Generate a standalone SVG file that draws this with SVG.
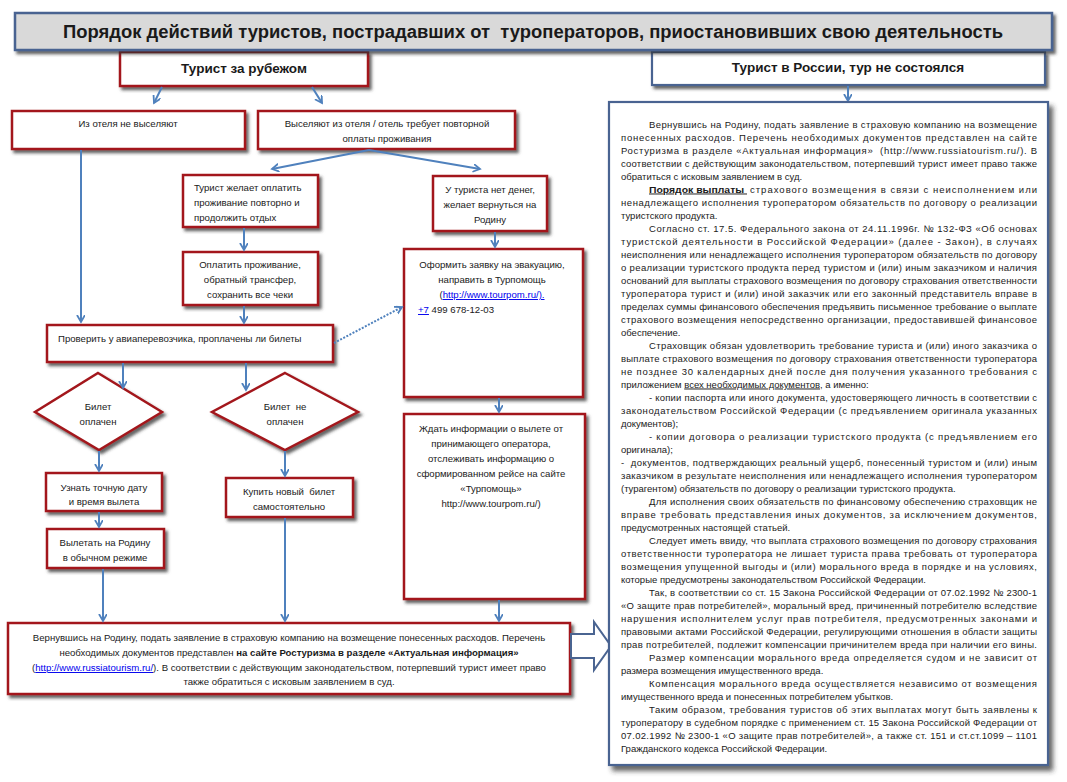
<svg xmlns="http://www.w3.org/2000/svg" width="1067" height="782" viewBox="0 0 1067 782">
<defs>
<style>
text{font-family:"Liberation Sans",Arial,sans-serif;fill:#1a1a1a}
.t{font-size:9.6px}
.c{text-anchor:middle}
.b{font-weight:bold}
.r{font-size:9.5px}
.red{fill:#fff;stroke:#a3191c;stroke-width:2.5}
.blu{fill:#fff;stroke:#4a6491;stroke-width:2.2}
.lnk{fill:#0000ee;text-decoration:underline}
.con{stroke:#4f81bd;stroke-width:2;fill:none}
</style>
<filter id="sh" x="-10%" y="-20%" width="125%" height="150%">
<feDropShadow dx="2.5" dy="3" stdDeviation="1.4" flood-color="#333" flood-opacity="0.75"/>
</filter>
<filter id="sh2" x="-5%" y="-5%" width="115%" height="115%">
<feDropShadow dx="4" dy="5" stdDeviation="2.5" flood-color="#333" flood-opacity="0.75"/>
</filter>
<marker id="ah" markerWidth="10" markerHeight="10" refX="7" refY="4" orient="auto" markerUnits="userSpaceOnUse">
<path d="M0,0 L7,4 L0,8" fill="none" stroke="#4f81bd" stroke-width="1.8"/>
</marker>
</defs>
<rect width="1067" height="782" fill="#fff"/>

<g id="node-abroad">
<rect class="red" x="120" y="52" width="248" height="34" filter="url(#sh)"/>
<text class="b c" x="244" y="73" font-size="13.5">Турист за рубежом</text>
</g>
<g id="node-russia">
<rect class="blu" x="652" y="52" width="393" height="33" filter="url(#sh)"/>
<text class="b c" x="848" y="72" font-size="13.5">Турист в России, тур не состоялся</text>
</g>
<g id="title">
<rect x="15" y="13" width="1037" height="37" fill="#d9d9d9" stroke="#4a6491" stroke-width="2.5" filter="url(#sh)"/>
<text class="b c" x="533" y="38" font-size="17.5" textLength="940" lengthAdjust="spacingAndGlyphs">Порядок действий туристов, пострадавших от&#160; туроператоров, приостановивших свою деятельность</text>
</g>

<g id="node-stay">
<rect class="red" x="12" y="111" width="233" height="38" filter="url(#sh)"/>
<text class="t c" x="128" y="127">Из отеля не выселяют</text>
</g>
<g id="node-evicted">
<rect class="red" x="258" y="111" width="257" height="38" filter="url(#sh)"/>
<text class="t c" x="387" y="127">Выселяют из отеля / отель требует повторной</text>
<text class="t c" x="387" y="142">оплаты проживания</text>
</g>
<g id="node-pay-again">
<rect class="red" x="183" y="175" width="135" height="52" filter="url(#sh)"/>
<text class="t" x="194" y="191">Турист желает оплатить</text>
<text class="t" x="194" y="206">проживание повторно и</text>
<text class="t" x="194" y="221">продолжить отдых</text>
</g>
<g id="node-no-money">
<rect class="red" x="433" y="176" width="114" height="55" filter="url(#sh)"/>
<text class="t c" x="490" y="193">У туриста нет денег,</text>
<text class="t c" x="490" y="208">желает вернуться на</text>
<text class="t c" x="490" y="223">Родину</text>
</g>
<g id="node-pay">
<rect class="red" x="183" y="252" width="135" height="53" filter="url(#sh)"/>
<text class="t c" x="250" y="268">Оплатить проживание,</text>
<text class="t c" x="250" y="283">обратный трансфер,</text>
<text class="t c" x="250" y="298">сохранить все чеки</text>
</g>
<g id="node-check">
<rect class="red" x="47" y="325" width="286" height="37" filter="url(#sh)"/>
<text class="t" x="58" y="342">Проверить у авиаперевозчика, проплачены ли билеты</text>
</g>
<g id="node-evac">
<rect class="red" x="404" y="249" width="179" height="148" filter="url(#sh)"/>
<text class="t c" x="492" y="268">Оформить заявку на эвакуацию,</text>
<text class="t c" x="492" y="283">направить в Турпомощь</text>
<text class="t c" x="492" y="298">(<tspan class="lnk">http://www.tourpom.ru/).</tspan></text>
<text class="t" x="418" y="313"><tspan class="lnk">+7</tspan> 499 678-12-03</text>
</g>
<g id="node-wait">
<rect class="red" x="404" y="414" width="181" height="185" filter="url(#sh)"/>
<text class="t c" x="491" y="432">Ждать информации о вылете от</text>
<text class="t c" x="491" y="447">принимающего оператора,</text>
<text class="t c" x="491" y="462">отслеживать информацию о</text>
<text class="t c" x="491" y="477">сформированном рейсе на сайте</text>
<text class="t c" x="491" y="492">«Турпомощь»</text>
<text class="t c" x="491" y="507">http://www.tourpom.ru/)</text>
</g>
<g id="node-paid">
<polygon class="red" points="98,373 162,412 99,450 35,412" filter="url(#sh)"/>
<text class="t c" x="98" y="410">Билет</text>
<text class="t c" x="98" y="425">оплачен</text>
</g>
<g id="node-unpaid">
<polygon class="red" points="285,373 358,412 285,450 212,412" filter="url(#sh)"/>
<text class="t c" x="285" y="410">Билет&#160; не</text>
<text class="t c" x="285" y="425">оплачен</text>
</g>
<g id="node-date">
<rect class="red" x="46" y="473" width="116" height="38" filter="url(#sh)"/>
<text class="t c" x="104" y="491">Узнать точную дату</text>
<text class="t c" x="104" y="505">и время вылета</text>
</g>
<g id="node-fly">
<rect class="red" x="47" y="529" width="117" height="39" filter="url(#sh)"/>
<text class="t c" x="105" y="546">Вылетать на Родину</text>
<text class="t c" x="105" y="561">в обычном режиме</text>
</g>
<g id="node-buy">
<rect class="red" x="226" y="478" width="127" height="39" filter="url(#sh)"/>
<text class="t c" x="289" y="495">Купить новый&#160; билет</text>
<text class="t c" x="289" y="510">самостоятельно</text>
</g>
<g id="node-claim">
<rect class="red" x="8" y="623" width="562" height="71" filter="url(#sh)"/>
<text class="t c" x="289" y="641">Вернувшись на Родину, подать заявление в страховую компанию на возмещение понесенных расходов. Перечень</text>
<text class="t c" x="289" y="656">необходимых документов представлен <tspan class="b">на сайте Ростуризма в разделе «Актуальная информация»</tspan></text>
<text class="t c" x="289" y="671">(<tspan class="lnk">http://www.russiatourism.ru/</tspan>). В соответствии с действующим законодательством, потерпевший турист имеет право</text>
<text class="t c" x="289" y="685">также обратиться с исковым заявлением в суд.</text>
</g>

<g id="connectors">
<line class="con" x1="162" y1="87" x2="154" y2="103" marker-end="url(#ah)"/>
<line class="con" x1="312" y1="87" x2="322" y2="103" marker-end="url(#ah)"/>
<line class="con" x1="848" y1="86" x2="848" y2="101" marker-end="url(#ah)"/>
<line class="con" x1="369" y1="150" x2="272" y2="169" marker-end="url(#ah)"/>
<line class="con" x1="369" y1="150" x2="480" y2="169" marker-end="url(#ah)"/>
<line class="con" x1="81" y1="150" x2="81" y2="322" marker-end="url(#ah)"/>
<line class="con" x1="244" y1="228" x2="244" y2="250" marker-end="url(#ah)"/>
<line class="con" x1="495" y1="232" x2="495" y2="247" marker-end="url(#ah)"/>
<line class="con" x1="244" y1="306" x2="244" y2="323" marker-end="url(#ah)"/>
<line class="con" x1="334" y1="343" x2="402" y2="307" stroke-dasharray="2 1.5" stroke-width="1.5" marker-end="url(#ah)"/>
<line class="con" x1="123" y1="363" x2="123" y2="388" marker-end="url(#ah)"/>
<line class="con" x1="246" y1="363" x2="246" y2="390" marker-end="url(#ah)"/>
<line class="con" x1="499" y1="398" x2="499" y2="412" marker-end="url(#ah)"/>
<line class="con" x1="99" y1="451" x2="99" y2="471" marker-end="url(#ah)"/>
<line class="con" x1="285" y1="451" x2="285" y2="476" marker-end="url(#ah)"/>
<line class="con" x1="99" y1="512" x2="99" y2="527" marker-end="url(#ah)"/>
<line class="con" x1="103" y1="569" x2="103" y2="621" marker-end="url(#ah)"/>
<line class="con" x1="285" y1="518" x2="285" y2="621" marker-end="url(#ah)"/>
<line class="con" x1="499" y1="600" x2="499" y2="621" marker-end="url(#ah)"/>
<path d="M571,634 H594 V622 L611,646 L594,670 V658 H571 Z" fill="#fff" stroke="#4a6491" stroke-width="2"/>
</g>

<g id="node-panel">
<rect class="blu" x="609" y="102" width="439" height="663" filter="url(#sh2)"/>
<text class="r" x="649" y="127.5" textLength="388" lengthAdjust="spacing">Вернувшись на Родину, подать заявление в страховую компанию на возмещение</text>
<text class="r" x="621" y="140.5" textLength="416" lengthAdjust="spacing">понесенных расходов. Перечень необходимых документов представлен на сайте</text>
<text class="r" x="621" y="153.5" textLength="416" lengthAdjust="spacing">Ростуризма в разделе «Актуальная информация»&#160; (http://www.russiatourism.ru/). В</text>
<text class="r" x="621" y="166.5" textLength="416" lengthAdjust="spacing">соответствии с действующим законодательством, потерпевший турист имеет право также</text>
<text class="r" x="621" y="179.5">обратиться с исковым заявлением в суд.</text>
<text class="r b" x="649" y="192.5" text-decoration="underline" textLength="98" lengthAdjust="spacingAndGlyphs">Порядок выплаты&#160;</text>
<text class="r" x="750" y="192.5" textLength="287" lengthAdjust="spacing">страхового возмещения в связи с неисполнением или</text>
<text class="r" x="621" y="205.5" textLength="416" lengthAdjust="spacing">ненадлежащего исполнения туроператором обязательств по договору о реализации</text>
<text class="r" x="621" y="218.5">туристского продукта.</text>
<text class="r" x="649" y="231.5" textLength="388" lengthAdjust="spacing">Согласно ст. 17.5. Федерального закона от 24.11.1996г. № 132-ФЗ «Об основах</text>
<text class="r" x="621" y="244.5" textLength="416" lengthAdjust="spacing">туристской деятельности в Российской Федерации» (далее - Закон), в случаях</text>
<text class="r" x="621" y="257.5" textLength="416" lengthAdjust="spacing">неисполнения или ненадлежащего исполнения туроператором обязательств по договору</text>
<text class="r" x="621" y="270.5" textLength="416" lengthAdjust="spacing">о реализации туристского продукта перед туристом и (или) иным заказчиком и наличия</text>
<text class="r" x="621" y="283.5" textLength="416" lengthAdjust="spacing">оснований для выплаты страхового возмещения по договору страхования ответственности</text>
<text class="r" x="621" y="296.5" textLength="416" lengthAdjust="spacing">туроператора турист и (или) иной заказчик или его законный представитель вправе в</text>
<text class="r" x="621" y="309.5" textLength="416" lengthAdjust="spacing">пределах суммы финансового обеспечения предъявить письменное требование о выплате</text>
<text class="r" x="621" y="322.5" textLength="416" lengthAdjust="spacing">страхового возмещения непосредственно организации, предоставившей финансовое</text>
<text class="r" x="621" y="335.5">обеспечение.</text>
<text class="r" x="649" y="348.5" textLength="388" lengthAdjust="spacing">Страховщик обязан удовлетворить требование туриста и (или) иного заказчика о</text>
<text class="r" x="621" y="361.5" textLength="416" lengthAdjust="spacing">выплате страхового возмещения по договору страхования ответственности туроператора</text>
<text class="r" x="621" y="374.5" textLength="416" lengthAdjust="spacing">не позднее 30 календарных дней после дня получения указанного требования с</text>
<text class="r" x="621" y="387.5">приложением <tspan text-decoration="underline">всех необходимых документов</tspan>, а именно:</text>
<text class="r" x="649" y="400.5" textLength="388" lengthAdjust="spacing">- копии паспорта или иного документа, удостоверяющего личность в соответствии с</text>
<text class="r" x="621" y="413.5" textLength="416" lengthAdjust="spacing">законодательством Российской Федерации (с предъявлением оригинала указанных</text>
<text class="r" x="621" y="426.5">документов);</text>
<text class="r" x="649" y="439.5" textLength="388" lengthAdjust="spacing">- копии договора о реализации туристского продукта (с предъявлением его</text>
<text class="r" x="621" y="452.5">оригинала);</text>
<text class="r" x="621" y="465.5" textLength="416" lengthAdjust="spacing">-&#160; документов, подтверждающих реальный ущерб, понесенный туристом и (или) иным</text>
<text class="r" x="621" y="478.5" textLength="416" lengthAdjust="spacing">заказчиком в результате неисполнения или ненадлежащего исполнения туроператором</text>
<text class="r" x="621" y="491.5">(турагентом) обязательств по договору о реализации туристского продукта.</text>
<text class="r" x="649" y="504.5" textLength="388" lengthAdjust="spacing">Для исполнения своих обязательств по финансовому обеспечению страховщик не</text>
<text class="r" x="621" y="517.5" textLength="416" lengthAdjust="spacing">вправе требовать представления иных документов, за исключением документов,</text>
<text class="r" x="621" y="530.5">предусмотренных настоящей статьей.</text>
<text class="r" x="649" y="543.5" textLength="388" lengthAdjust="spacing">Следует иметь ввиду, что выплата страхового возмещения по договору страхования</text>
<text class="r" x="621" y="556.5" textLength="416" lengthAdjust="spacing">ответственности туроператора не лишает туриста права требовать от туроператора</text>
<text class="r" x="621" y="569.5" textLength="416" lengthAdjust="spacing">возмещения упущенной выгоды и (или) морального вреда в порядке и на условиях,</text>
<text class="r" x="621" y="582.5">которые предусмотрены законодательством Российской Федерации.</text>
<text class="r" x="649" y="595.5" textLength="388" lengthAdjust="spacing">Так, в соответствии со ст. 15 Закона Российской Федерации от 07.02.1992 № 2300-1</text>
<text class="r" x="621" y="608.5" textLength="416" lengthAdjust="spacing">«О защите прав потребителей», моральный вред, причиненный потребителю вследствие</text>
<text class="r" x="621" y="621.5" textLength="416" lengthAdjust="spacing">нарушения исполнителем услуг прав потребителя, предусмотренных законами и</text>
<text class="r" x="621" y="634.5" textLength="416" lengthAdjust="spacing">правовыми актами Российской Федерации, регулирующими отношения в области защиты</text>
<text class="r" x="621" y="647.5" textLength="416" lengthAdjust="spacing">прав потребителей, подлежит компенсации причинителем вреда при наличии его вины.</text>
<text class="r" x="649" y="660.5" textLength="388" lengthAdjust="spacing">Размер компенсации морального вреда определяется судом и не зависит от</text>
<text class="r" x="621" y="673.5">размера возмещения имущественного вреда.</text>
<text class="r" x="649" y="686.5" textLength="388" lengthAdjust="spacing">Компенсация морального вреда осуществляется независимо от возмещения</text>
<text class="r" x="621" y="699.5">имущественного вреда и понесенных потребителем убытков.</text>
<text class="r" x="649" y="712.5" textLength="388" lengthAdjust="spacing">Таким образом, требования туристов об этих выплатах могут быть заявлены к</text>
<text class="r" x="621" y="725.5" textLength="416" lengthAdjust="spacing">туроператору в судебном порядке с применением ст. 15 Закона Российской Федерации от</text>
<text class="r" x="621" y="738.5" textLength="416" lengthAdjust="spacing">07.02.1992 № 2300-1 «О защите прав потребителей», а также ст. 151 и ст.ст.1099 – 1101</text>
<text class="r" x="621" y="751.5">Гражданского кодекса Российской Федерации.</text>
</g>
</svg>
